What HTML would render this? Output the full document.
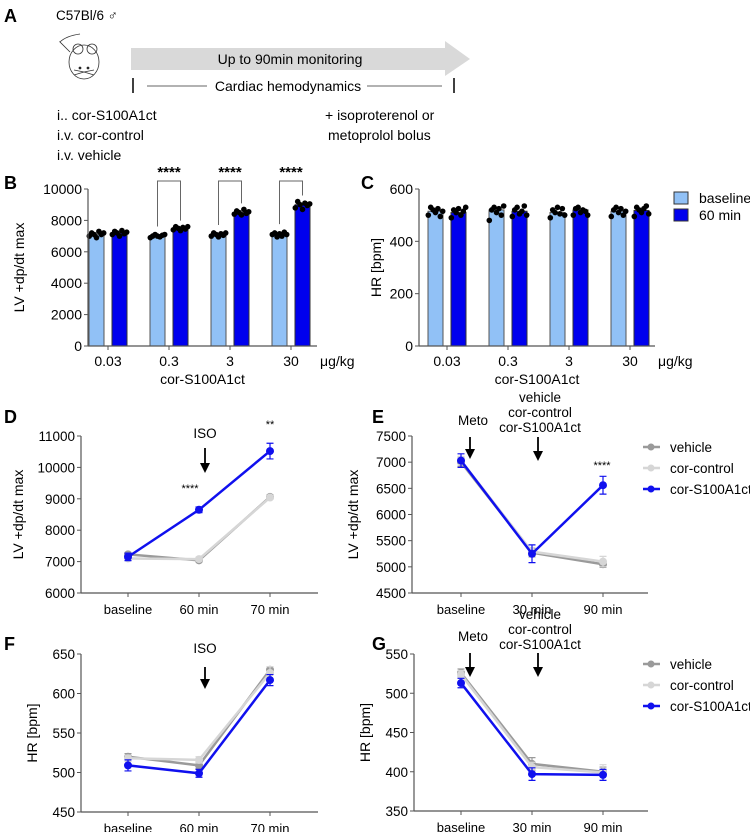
<!DOCTYPE html>
<html><head><meta charset="utf-8"><style>
body{margin:0;background:#fff;}
svg{display:block;font-family:"Liberation Sans",Arial,sans-serif;}
</style></head><body>
<svg id="fig" width="750" height="832" viewBox="0 0 750 832">
<g>
<text x="4" y="22" font-size="18" font-weight="bold">A</text>
<text x="56" y="20" font-size="13.5">C57Bl/6 ♂</text>
<g fill="none" stroke="#333" stroke-width="0.8">
<ellipse cx="84" cy="62" rx="15" ry="17"/>
<circle cx="78" cy="49" r="5"/><circle cx="92" cy="49" r="5"/>
<path d="M70 52 Q58 40 60 42 Q66 36 80 34"/>
<circle cx="80" cy="68" r="1" fill="#000"/><circle cx="88" cy="68" r="1" fill="#000"/>
<path d="M84 72 L74 70 M84 72 L74 75 M84 72 L94 70 M84 72 L94 75"/>
</g>
<polygon points="131,48 445,48 445,41 470,59 445,76 445,70 131,70" fill="#d9d9d9"/>
<text x="290" y="64" font-size="14" text-anchor="middle">Up to 90min monitoring</text>
<line x1="133" y1="78" x2="133" y2="93" stroke="#000" stroke-width="1.5"/>
<line x1="454" y1="78" x2="454" y2="93" stroke="#000" stroke-width="1.5"/>
<line x1="147" y1="86" x2="207" y2="86" stroke="#333" stroke-width="0.8"/>
<line x1="367" y1="86" x2="442" y2="86" stroke="#333" stroke-width="0.8"/>
<text x="288" y="91" font-size="14" text-anchor="middle">Cardiac hemodynamics</text>
<text x="57" y="120" font-size="14">i.. cor-S100A1ct</text>
<text x="57" y="140" font-size="14">i.v. cor-control</text>
<text x="57" y="160" font-size="14">i.v. vehicle</text>
<text x="325" y="120" font-size="14">+ isoproterenol or</text>
<text x="328" y="140" font-size="14">metoprolol bolus</text>
</g>
<g id="gB"></g>
<g id="gC"></g>
<g id="gD"></g>
<g id="gE"></g>
<g id="gF"></g>
<g id="gG"></g>
</svg>
<script>
const doses = ["0.03","0.3","3","30"];
const bBaseline = [7100,7000,7100,7100];
const bSixty = [7200,7500,8500,9000];
const bBaselineDots = [[7000,7200,7100,6900,7300,7100,7200],[6900,7000,7100,7000,6950,7050,7100],[7000,7200,7100,6950,7150,7050,7200],[7100,7200,6950,7150,7000,7250,7100]];
const bSixtyDots = [[7100,7300,7200,7000,7350,7150,7250],[7400,7600,7500,7350,7550,7450,7600],[8400,8600,8500,8350,8700,8450,8550],[8800,9200,9000,8700,9100,8950,9050]];
const bTicks = [0,2000,4000,6000,8000,10000];
const bSig = ["","****","****","****"];
const cBaseline = [515,520,510,515];
const cSixty = [510,515,520,518];
const cBaselineDots = [[500,530,520,510,525,495,515],[480,520,530,510,525,500,535],[490,520,510,530,505,525,500],[495,520,530,510,525,500,515]];
const cSixtyDots = [[490,520,510,525,500,515,530],[495,520,530,505,515,535,500],[500,525,530,510,520,515,500],[495,530,520,510,525,535,505]];
const cTicks = [0,200,400,600];
const timeD = ["baseline","60 min","70 min"];
const dBlue = [7150,8650,10520], dBlueErr=[120,90,250];
const dVeh = [7230,7040,9060], dVehErr=[60,50,60];
const dCtl = [7100,7080,9040], dCtlErr=[60,60,60];
const dTicks=[6000,7000,8000,9000,10000,11000];
const timeE = ["baseline","30 min","90 min"];
const eBlue=[7030,5250,6560], eBlueErr=[130,170,170];
const eVeh=[7000,5270,5050], eVehErr=[80,80,60];
const eCtl=[7030,5290,5100], eCtlErr=[80,80,100];
const eTicks=[4500,5000,5500,6000,6500,7000,7500];
const fBlue=[509,499,617], fBlueErr=[7,5,7];
const fVeh=[520,509,630], fVehErr=[4,4,4];
const fCtl=[518,516,626], fCtlErr=[4,4,8];
const fTicks=[450,500,550,600,650];
const gBlue=[513,397,396], gBlueErr=[6,8,7];
const gVeh=[526,410,400], gVehErr=[5,8,6];
const gCtl=[524,406,399], gCtlErr=[5,6,10];
const gTicks=[350,400,450,500,550];
const seriesNames=["vehicle","cor-control","cor-S100A1ct"];

const NS="http://www.w3.org/2000/svg";
function mk(parent,tag,attrs,text){const e=document.createElementNS(NS,tag);for(const k in attrs)e.setAttribute(k,attrs[k]);if(text!==undefined)e.textContent=text;parent.appendChild(e);return e;}

function barChart(g,o){
  const y=v=>o.y0-(v-o.min)/(o.max-o.min)*(o.y0-o.y1);
  const x=i=>o.x0+o.first+i*61;
  const lbl=mk(g,'text',{x:o.lx,y:o.ly,'font-size':18,'font-weight':'bold'},o.letter);
  
  
  o.base.forEach((v,i)=>{
    const b1=mk(g,'rect',{x:x(i)-19,y:y(v),width:15,height:o.y0-y(v),fill:'#91c1f6',stroke:'#555','stroke-width':1});
    
    
    const b2=mk(g,'rect',{x:x(i)+4,y:y(o.sixty[i]),width:15,height:o.y0-y(o.sixty[i]),fill:'#0000ee',stroke:'#333','stroke-width':1});
    
    
    o.bd[i].forEach((d,j)=>{const c=mk(g,'circle',{cx:x(i)-11.5+(j-3)*2.4,cy:y(d),r:2.8,fill:'#000'});
      
      });
    o.sd[i].forEach((d,j)=>{const c=mk(g,'circle',{cx:x(i)+11.5+(j-3)*2.4,cy:y(d),r:2.8,fill:'#000'});
      
      });
    if(o.sig&&o.sig[i]){
      const top=y(o.max)-8;
      mk(g,'path',{d:`M${x(i)-11.5} ${y(Math.max(...o.bd[i]))-8} V${top} H${x(i)+11.5} V${y(Math.max(...o.sd[i]))-6}`,fill:'none',stroke:'#666','stroke-width':1});
      const s=mk(g,'text',{x:x(i),y:top-4,'font-size':15,'text-anchor':'middle','font-weight':'bold'},o.sig[i]);
      
      
    }
    mk(g,'line',{x1:x(i),y1:o.y0,x2:x(i),y2:o.y0+4,stroke:'#555'});
    const t=mk(g,'text',{x:x(i),y:o.y0+20,'font-size':14,'text-anchor':'middle'},doses[i]);
    
    
  });
  mk(g,'line',{x1:o.x0,y1:o.y0,x2:o.xEnd,y2:o.y0,stroke:'#555','stroke-width':1.2});
  mk(g,'line',{x1:o.x0,y1:o.y0,x2:o.x0,y2:o.y1,stroke:'#555','stroke-width':1.2});
  o.ticks.forEach(v=>{mk(g,'line',{x1:o.x0-4,y1:y(v),x2:o.x0,y2:y(v),stroke:'#555'});
    const t=mk(g,'text',{x:o.x0-6,y:y(v)+5,'font-size':14,'text-anchor':'end'},v);
    
    });
  const u=mk(g,'text',{x:o.xEnd+3,y:o.y0+20,'font-size':14},'μg/kg');
  
  
  const xt=mk(g,'text',{x:(o.x0+o.xEnd)/2,y:o.y0+38,'font-size':14,'text-anchor':'middle'},'cor-S100A1ct');
  
  
  const yt=mk(g,'text',{x:0,y:0,'font-size':14,'text-anchor':'middle',transform:`translate(${o.x0-o.ytOff},${(o.y0+o.y1)/2}) rotate(-90)`},o.ytitle);
  
  
}
barChart(document.getElementById('gB'),{letter:'B',lx:4,ly:189,x0:88,xEnd:317,first:20,y0:346,y1:189,min:0,max:10000,base:bBaseline,sixty:bSixty,bd:bBaselineDots,sd:bSixtyDots,ticks:bTicks,sig:bSig,ytitle:'LV +dp/dt max',ytOff:64});
barChart(document.getElementById('gC'),{letter:'C',lx:361,ly:189,x0:419,xEnd:655,first:28,y0:346,y1:189,min:0,max:600,base:cBaseline,sixty:cSixty,bd:cBaselineDots,sd:cSixtyDots,ticks:cTicks,sig:null,ytitle:'HR [bpm]',ytOff:38});
(function(){const g=document.getElementById('gC');
 const r1=mk(g,'rect',{x:674,y:192,width:14,height:12,fill:'#91c1f6',stroke:'#333'});
 
 
 const r2=mk(g,'rect',{x:674,y:209,width:14,height:12,fill:'#0000ee',stroke:'#333'});
 
 
 const t1=mk(g,'text',{x:699,y:203,'font-size':14},'baseline');
 
 
 const t2=mk(g,'text',{x:699,y:220,'font-size':14},'60 min');
 
 })();

function lineChart(g,o){
  const y=v=>o.y0-(v-o.min)/(o.max-o.min)*(o.y0-o.y1);
  const x=i=>o.cx0+i*71;
  const L=mk(g,'text',{x:o.lx,y:o.ly,'font-size':18,'font-weight':'bold'},o.letter);
  
  
  mk(g,'line',{x1:o.x0,y1:o.y0,x2:o.xEnd,y2:o.y0,stroke:'#555','stroke-width':1.2});
  mk(g,'line',{x1:o.x0,y1:o.y0,x2:o.x0,y2:o.y1,stroke:'#555','stroke-width':1.2});
  o.ticks.forEach(v=>{mk(g,'line',{x1:o.x0-4,y1:y(v),x2:o.x0,y2:y(v),stroke:'#555'});
    const t=mk(g,'text',{x:o.x0-6,y:y(v)+5,'font-size':13.5,'text-anchor':'end'},v);
    
    });
  o.cats.forEach((c,i)=>{mk(g,'line',{x1:x(i),y1:o.y0,x2:x(i),y2:o.y0+4,stroke:'#555'});
    const t=mk(g,'text',{x:x(i),y:o.y0+21,'font-size':13,'text-anchor':'middle'},c);
    
    });
  const yt=mk(g,'text',{x:0,y:0,'font-size':14,'text-anchor':'middle',transform:`translate(${o.x0-o.ytOff},${(o.y0+o.y1)/2}) rotate(-90)`},o.ytitle);
  
  
  const cols=['#9a9a9a','#d6d6d6','#1010ee'];
  o.series.forEach((s,k)=>{
    const vals=s[0],err=s[1];
    const p=mk(g,'polyline',{points:vals.map((v,i)=>x(i)+','+y(v)).join(' '),fill:'none',stroke:cols[k],'stroke-width':2.5});
    
    
    vals.forEach((v,i)=>{
      mk(g,'path',{d:`M${x(i)} ${y(v+err[i])} V${y(v-err[i])} M${x(i)-3.5} ${y(v+err[i])} H${x(i)+3.5} M${x(i)-3.5} ${y(v-err[i])} H${x(i)+3.5}`,stroke:cols[k],'stroke-width':1.2,fill:'none'});
      const c=mk(g,'circle',{cx:x(i),cy:y(v),r:4,fill:cols[k]});
      
      
    });
  });
  (o.ann||[]).forEach(a=>{const t=mk(g,'text',{x:a[0],y:a[1],'font-size':a[3]||13.5,'text-anchor':'middle'},a[2]);
    
    });
  (o.arrows||[]).forEach(a=>{mk(g,'line',{x1:a[0],y1:a[1],x2:a[0],y2:a[2]-8,stroke:'#000','stroke-width':1.8});
    const ar=mk(g,'polygon',{points:`${a[0]-5},${a[2]-10} ${a[0]+5},${a[2]-10} ${a[0]},${a[2]}`,fill:'#000'});
    
    });
  if(o.legend){seriesNames.forEach((n,k)=>{const ly=o.legY+k*21;
    mk(g,'line',{x1:643,y1:ly,x2:660,y2:ly,stroke:cols[k],'stroke-width':2.5});
    mk(g,'circle',{cx:651,cy:ly,r:3.5,fill:cols[k]});
    const t=mk(g,'text',{x:670,y:ly+5,'font-size':13.5},n);
    
    });}
}
const stackLabels=(cx,y0)=>[[cx,y0,'vehicle'],[cx,y0+15,'cor-control'],[cx,y0+30,'cor-S100A1ct']];
lineChart(document.getElementById('gD'),{letter:'D',lx:4,ly:423,x0:81,xEnd:318,cx0:128,y0:593,y1:436,min:6000,max:11000,ticks:dTicks,cats:timeD,ytitle:'LV +dp/dt max',ytOff:58,
 series:[[dVeh,dVehErr],[dCtl,dCtlErr],[dBlue,dBlueErr]],ann:[[205,438,'ISO'],[190,492,'****',11],[270,428,'**',11]],arrows:[[205,448,473]]});
lineChart(document.getElementById('gE'),{letter:'E',lx:372,ly:423,x0:412,xEnd:648,cx0:461,y0:593,y1:436,min:4500,max:7500,ticks:eTicks,cats:timeE,ytitle:'LV +dp/dt max',ytOff:54,
 series:[[eVeh,eVehErr],[eCtl,eCtlErr],[eBlue,eBlueErr]],ann:[[473,425,'Meto']].concat(stackLabels(540,402)).concat([[602,469,'****',11]]),arrows:[[470,437,459],[538,437,461]],legend:true,legY:447});
lineChart(document.getElementById('gF'),{letter:'F',lx:4,ly:650,x0:81,xEnd:318,cx0:128,y0:812,y1:654,min:450,max:650,ticks:fTicks,cats:timeD,ytitle:'HR [bpm]',ytOff:44,
 series:[[fVeh,fVehErr],[fCtl,fCtlErr],[fBlue,fBlueErr]],ann:[[205,653,'ISO']],arrows:[[205,667,689]]});
lineChart(document.getElementById('gG'),{letter:'G',lx:372,ly:650,x0:414,xEnd:648,cx0:461,y0:811,y1:654,min:350,max:550,ticks:gTicks,cats:timeE,ytitle:'HR [bpm]',ytOff:44,
 series:[[gVeh,gVehErr],[gCtl,gCtlErr],[gBlue,gBlueErr]],ann:[[473,641,'Meto']].concat(stackLabels(540,619)),arrows:[[470,653,677],[538,653,677]],legend:true,legY:664});
</script>
</body></html>
